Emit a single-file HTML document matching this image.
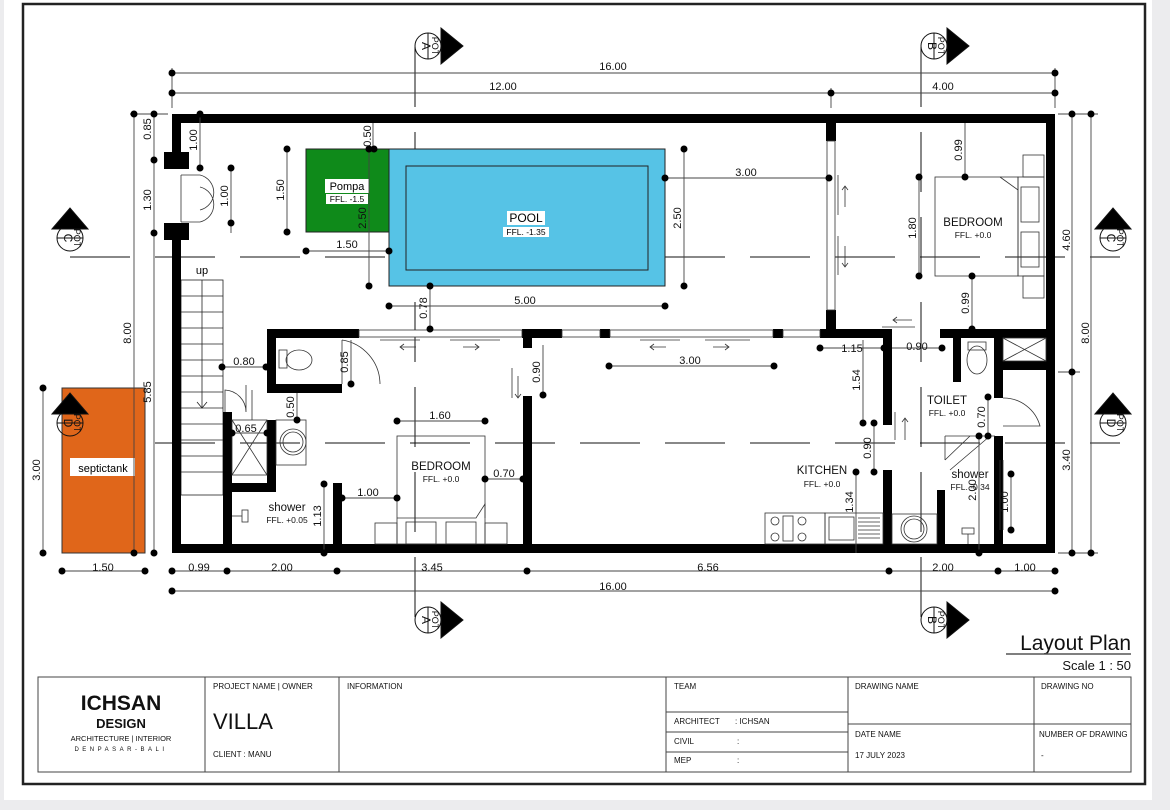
<!DOCTYPE html>
<html><head><meta charset="utf-8"><style>
html,body{margin:0;padding:0;background:#ececee;}
svg{display:block;font-family:"Liberation Sans",sans-serif;}
</style></head><body>
<svg width="1170" height="810" viewBox="0 0 1170 810" xmlns="http://www.w3.org/2000/svg">
<rect x="0" y="0" width="1170" height="810" fill="#ececee"/>
<rect x="4" y="0" width="1148" height="800" fill="#fff"/>
<rect x="23" y="4" width="1122" height="780" fill="#fff" stroke="#222" stroke-width="2.5"/>

<!-- section dashed lines -->
<g stroke="#111" stroke-width="1" stroke-dasharray="60,25">
<line x1="70" y1="257" x2="1120" y2="257"/>
<line x1="70" y1="443" x2="1120" y2="443"/>
<line x1="415" y1="47" x2="415" y2="620"/>
<line x1="921" y1="47" x2="921" y2="620"/>
</g>

<!-- septic tank -->
<rect x="62" y="388" width="83" height="165" fill="#e0661a" stroke="#333" stroke-width="1"/>
<rect x="70" y="458" width="65" height="18" fill="#fff"/>
<text x="103" y="472" font-size="11" text-anchor="middle">septictank</text>

<!-- pool / pompa -->
<rect x="306" y="149" width="83" height="83" fill="#0f8a1a" stroke="#222" stroke-width="1"/>
<rect x="389" y="149" width="276" height="137" fill="#56c3e6" stroke="#222" stroke-width="1"/>
<rect x="406" y="166" width="242" height="104" fill="none" stroke="#222" stroke-width="1"/>
<rect x="325" y="179" width="44" height="14" fill="#fff"/>
<text x="347" y="190" font-size="11" text-anchor="middle">Pompa</text>
<rect x="326" y="194" width="42" height="10" fill="#fff"/>
<text x="347" y="202" font-size="8.5" text-anchor="middle">FFL. -1.5</text>
<rect x="507" y="211" width="38" height="14" fill="#fff"/>
<text x="526" y="222" font-size="12" text-anchor="middle">POOL</text>
<rect x="503" y="227" width="46" height="10" fill="#fff"/>
<text x="526" y="235" font-size="8.5" text-anchor="middle">FFL. -1.35</text>

<!-- stairs -->
<g stroke="#222" stroke-width="0.8" fill="none">
<rect x="181" y="280" width="42" height="215"/>
<path d="M181 296H223M181 312H223M181 328H223M181 344H223M181 360H223M181 376H223M181 392H223M181 408H223M181 424H223M181 440H223M181 456H223M181 472H223"/>
<line x1="202" y1="280" x2="202" y2="408"/>
<path d="M197 402L202 408L207 402"/>
</g>
<text x="202" y="274" font-size="11" text-anchor="middle">up</text>

<!-- outer walls -->
<g fill="#000">
<rect x="172" y="114" width="883" height="9"/>
<rect x="172" y="544" width="883" height="9"/>
<rect x="1046" y="114" width="9" height="439"/>
<rect x="172" y="114" width="9" height="38"/>
<rect x="172" y="232" width="9" height="321"/>
<rect x="164" y="152" width="25" height="17"/>
<rect x="164" y="223" width="25" height="17"/>
<!-- vertical wall at 826 -->
<rect x="826" y="123" width="10" height="18"/>
<rect x="826" y="310" width="10" height="28"/>
<!-- horizontal wall y329 -->
<rect x="267" y="329" width="92" height="9"/>
<rect x="522" y="329" width="40" height="9"/>
<rect x="600" y="329" width="10" height="9"/>
<rect x="773" y="329" width="10" height="9"/>
<rect x="820" y="329" width="72" height="9"/>
<rect x="940" y="329" width="106" height="9"/>
<!-- toilet room left -->
<rect x="267" y="329" width="9" height="64"/>
<rect x="267" y="384" width="75" height="9"/>
<!-- wash/shower left -->
<rect x="223" y="412" width="9" height="141"/>
<rect x="267" y="420" width="9" height="72"/>
<rect x="223" y="483" width="53" height="9"/>
<rect x="333" y="483" width="9" height="70"/>
<!-- bedroom/living wall -->
<rect x="523" y="329" width="9" height="19"/>
<rect x="523" y="396" width="9" height="157"/>
<!-- kitchen wall -->
<rect x="883" y="329" width="9" height="96"/>
<rect x="883" y="470" width="9" height="83"/>
<!-- toilet right -->
<rect x="953" y="329" width="8" height="53"/>
<rect x="994" y="329" width="9" height="69"/>
<rect x="994" y="436" width="9" height="117"/>
<rect x="1003" y="361" width="43" height="9"/>
<rect x="937" y="490" width="8" height="63"/>
</g>

<!-- windows / glass -->
<g stroke="#333" stroke-width="0.8" fill="#fff">
<rect x="827" y="141" width="8" height="169"/>
<rect x="359" y="330" width="163" height="7"/>
<rect x="562" y="330" width="38" height="7"/>
<rect x="610" y="330" width="163" height="7"/>
<rect x="783" y="330" width="37" height="7"/>
</g>
<g stroke="#333" stroke-width="0.8" fill="none">
<line x1="838" y1="175" x2="838" y2="215"/><line x1="838" y1="236" x2="838" y2="275"/>
<path d="M845 207V186M842 190L845 186L848 190"/>
<path d="M845 246V267M842 263L845 267L848 263"/>
<line x1="380" y1="340" x2="420" y2="340"/><line x1="450" y1="340" x2="500" y2="340"/>
<line x1="640" y1="340" x2="680" y2="340"/><line x1="705" y1="340" x2="750" y2="340"/>
<path d="M416 347H400M404 344L400 347L404 350"/>
<path d="M463 347H479M475 344L479 347L475 350"/>
<path d="M666 347H650M654 344L650 347L654 350"/>
<path d="M713 347H729M725 344L729 347L725 350"/>
<line x1="512" y1="368" x2="512" y2="398"/>
<path d="M518 376V398M515 394L518 398L521 394"/>
<line x1="882" y1="327" x2="915" y2="327"/>
<path d="M912 320H893M897 317L893 320L897 323"/>
<line x1="895" y1="412" x2="895" y2="440"/>
<path d="M905 440V418M902 422L905 418L908 422"/>
<!-- entry doors -->
<path d="M181 175 L200 175 A18 18 0 0 1 200 210 M181 222 L200 222 A18 18 0 0 0 200 187"/>
<line x1="181" y1="175" x2="181" y2="222"/>
<!-- toilet door -->
<path d="M342 340 V384 M342 340 A45 45 0 0 1 380 384"/>
<!-- small door near shower -->
<path d="M225 412 V390 A22 22 0 0 1 246 412 M246 385 V412 M252 390V420"/>
<!-- toilet right door -->
<path d="M1003 398 A38 38 0 0 1 1040 426 L1003 426"/>
<!-- X boxes -->
<rect x="232" y="420" width="35" height="55"/>
<path d="M232 420L267 475M267 420L232 475"/>
<rect x="1003" y="338" width="43" height="23"/>
<path d="M1003 338L1046 361M1046 338L1003 361"/>
<!-- basin left -->
<rect x="276" y="420" width="30" height="45"/>
<circle cx="293" cy="442" r="13"/><circle cx="293" cy="442" r="10"/>
<!-- toilets -->
<ellipse cx="299" cy="360" rx="13" ry="10"/><rect x="279" y="350" width="8" height="18"/>
<ellipse cx="977" cy="360" rx="10" ry="14"/><rect x="968" y="342" width="18" height="8"/>
<!-- shower fixtures -->
<rect x="242" y="510" width="6" height="12"/><line x1="232" y1="516" x2="242" y2="516"/>
<rect x="962" y="528" width="12" height="6"/><line x1="968" y1="534" x2="968" y2="544"/>
<path d="M945 436H995M945 436V460M945 460L970 436M950 470L990 436"/>
<line x1="1000" y1="460" x2="1000" y2="530"/><line x1="1003" y1="460" x2="1003" y2="530"/>
<!-- bedroom right -->
<rect x="935" y="177" width="83" height="99"/>
<rect x="1018" y="177" width="26" height="99"/>
<rect x="1023" y="155" width="21" height="22"/><rect x="1023" y="276" width="21" height="22"/>
<rect x="1021" y="187" width="18" height="35"/><rect x="1021" y="232" width="18" height="35"/>
<path d="M1000 177 L1018 190"/>
<!-- bedroom left -->
<rect x="397" y="436" width="88" height="108"/>
<rect x="375" y="523" width="22" height="21"/><rect x="485" y="523" width="22" height="21"/>
<rect x="406" y="522" width="30" height="22"/><rect x="446" y="522" width="30" height="22"/>
<path d="M397 518H476L485 504V518"/>
<!-- kitchen -->
<rect x="765" y="513" width="60" height="31"/>
<circle cx="775" cy="521" r="4"/><circle cx="775" cy="537" r="4"/><circle cx="802" cy="521" r="4"/><circle cx="802" cy="537" r="4"/>
<rect x="783" y="516" width="10" height="25"/>
<rect x="825" y="513" width="58" height="31"/><rect x="829" y="517" width="25" height="23"/>
<path d="M858 518H880M858 522H880M858 526H880M858 530H880M858 534H880M858 538H880"/>
<rect x="892" y="514" width="45" height="30"/>
<circle cx="914" cy="529" r="13"/><circle cx="914" cy="529" r="10"/>
</g>

<!-- room labels -->
<g font-size="11.5" text-anchor="middle" fill="#111">
<text x="973" y="226">BEDROOM</text>
<text x="441" y="470">BEDROOM</text>
<text x="947" y="404">TOILET</text>
<text x="822" y="474">KITCHEN</text>
<text x="970" y="478">shower</text>
<text x="287" y="511">shower</text>
</g>
<g font-size="8.5" text-anchor="middle" fill="#111">
<text x="973" y="238">FFL. +0.0</text>
<text x="441" y="482">FFL. +0.0</text>
<text x="947" y="416">FFL. +0.0</text>
<text x="822" y="487">FFL. +0.0</text>
<text x="970" y="490">FFL. -0.34</text>
<text x="287" y="523">FFL. +0.05</text>
</g>

<!-- dimension lines -->
<g stroke="#444" stroke-width="0.9" fill="none">
<line x1="172" y1="73" x2="1055" y2="73"/><line x1="172" y1="93" x2="1055" y2="93"/>
<line x1="172" y1="68" x2="172" y2="108"/><line x1="1055" y1="68" x2="1055" y2="108"/><line x1="831" y1="88" x2="831" y2="108"/>
<line x1="172" y1="571" x2="1055" y2="571"/><line x1="172" y1="591" x2="1055" y2="591"/>
<line x1="62" y1="571" x2="145" y2="571"/>
<line x1="134" y1="114" x2="134" y2="553"/><line x1="154" y1="114" x2="154" y2="553"/>
<line x1="130" y1="114" x2="168" y2="114"/>
<line x1="43" y1="388" x2="43" y2="553"/>
<line x1="1072" y1="114" x2="1072" y2="553"/><line x1="1091" y1="114" x2="1091" y2="553"/>
<line x1="1058" y1="114" x2="1098" y2="114"/><line x1="1058" y1="553" x2="1098" y2="553"/>
<line x1="1058" y1="372" x2="1080" y2="372"/>
<line x1="200" y1="114" x2="200" y2="168"/>
<line x1="231" y1="168" x2="231" y2="233"/>
<line x1="287" y1="149" x2="287" y2="232"/>
<line x1="373" y1="123" x2="373" y2="149"/>
<line x1="369" y1="149" x2="369" y2="286"/>
<line x1="306" y1="251" x2="389" y2="251"/>
<line x1="430" y1="286" x2="430" y2="329"/>
<line x1="389" y1="306" x2="665" y2="306"/>
<line x1="684" y1="149" x2="684" y2="286"/>
<line x1="665" y1="178" x2="829" y2="178"/>
<line x1="965" y1="123" x2="965" y2="177"/>
<line x1="919" y1="177" x2="919" y2="276"/>
<line x1="972" y1="276" x2="972" y2="329"/>
<line x1="609" y1="366" x2="774" y2="366"/>
<line x1="820" y1="348" x2="884" y2="348"/>
<line x1="892" y1="348" x2="942" y2="348"/>
<line x1="863" y1="340" x2="863" y2="423"/>
<line x1="874" y1="423" x2="874" y2="472"/>
<line x1="856" y1="472" x2="856" y2="553"/>
<line x1="988" y1="397" x2="988" y2="436"/>
<line x1="979" y1="436" x2="979" y2="553"/>
<line x1="1011" y1="474" x2="1011" y2="530"/>
<line x1="222" y1="367" x2="266" y2="367"/>
<line x1="351" y1="340" x2="351" y2="384"/>
<line x1="297" y1="393" x2="297" y2="420"/>
<line x1="232" y1="433" x2="267" y2="433"/>
<line x1="324" y1="484" x2="324" y2="553"/>
<line x1="342" y1="498" x2="397" y2="498"/>
<line x1="397" y1="421" x2="485" y2="421"/>
<line x1="485" y1="479" x2="523" y2="479"/>
<line x1="543" y1="345" x2="543" y2="395"/>
</g>
<g fill="#000">
<circle cx="172" cy="73" r="3.5"/><circle cx="1055" cy="73" r="3.5"/>
<circle cx="172" cy="93" r="3.5"/><circle cx="831" cy="93" r="3.5"/><circle cx="1055" cy="93" r="3.5"/>
<circle cx="172" cy="571" r="3.5"/><circle cx="227" cy="571" r="3.5"/><circle cx="337" cy="571" r="3.5"/><circle cx="527" cy="571" r="3.5"/><circle cx="889" cy="571" r="3.5"/><circle cx="998" cy="571" r="3.5"/><circle cx="1055" cy="571" r="3.5"/>
<circle cx="172" cy="591" r="3.5"/><circle cx="1055" cy="591" r="3.5"/>
<circle cx="62" cy="571" r="3.5"/><circle cx="145" cy="571" r="3.5"/>
<circle cx="134" cy="114" r="3.5"/><circle cx="134" cy="553" r="3.5"/>
<circle cx="154" cy="114" r="3.5"/><circle cx="154" cy="160" r="3.5"/><circle cx="154" cy="233" r="3.5"/><circle cx="154" cy="553" r="3.5"/>
<circle cx="43" cy="388" r="3.5"/><circle cx="43" cy="553" r="3.5"/>
<circle cx="1072" cy="114" r="3.5"/><circle cx="1072" cy="372" r="3.5"/><circle cx="1072" cy="553" r="3.5"/>
<circle cx="1091" cy="114" r="3.5"/><circle cx="1091" cy="553" r="3.5"/>
<circle cx="200" cy="114" r="3.5"/><circle cx="200" cy="168" r="3.5"/>
<circle cx="231" cy="168" r="3.5"/><circle cx="231" cy="223" r="3.5"/>
<circle cx="287" cy="149" r="3.5"/><circle cx="287" cy="232" r="3.5"/>
<circle cx="369" cy="149" r="3.5"/><circle cx="374" cy="149" r="3.5"/><circle cx="369" cy="286" r="3.5"/>
<circle cx="306" cy="251" r="3.5"/><circle cx="389" cy="251" r="3.5"/>
<circle cx="430" cy="286" r="3.5"/><circle cx="430" cy="329" r="3.5"/>
<circle cx="389" cy="306" r="3.5"/><circle cx="665" cy="306" r="3.5"/>
<circle cx="684" cy="149" r="3.5"/><circle cx="684" cy="286" r="3.5"/>
<circle cx="665" cy="178" r="3.5"/><circle cx="829" cy="178" r="3.5"/>
<circle cx="965" cy="177" r="3.5"/><circle cx="919" cy="177" r="3.5"/><circle cx="919" cy="276" r="3.5"/><circle cx="972" cy="276" r="3.5"/><circle cx="972" cy="329" r="3.5"/>
<circle cx="609" cy="366" r="3.5"/><circle cx="774" cy="366" r="3.5"/>
<circle cx="820" cy="348" r="3.5"/><circle cx="884" cy="348" r="3.5"/><circle cx="942" cy="348" r="3.5"/>
<circle cx="863" cy="423" r="3.5"/><circle cx="874" cy="423" r="3.5"/><circle cx="874" cy="472" r="3.5"/><circle cx="856" cy="472" r="3.5"/>
<circle cx="988" cy="397" r="3.5"/><circle cx="988" cy="436" r="3.5"/><circle cx="979" cy="436" r="3.5"/><circle cx="979" cy="553" r="3.5"/>
<circle cx="1011" cy="474" r="3.5"/><circle cx="1011" cy="530" r="3.5"/>
<circle cx="222" cy="367" r="3.5"/><circle cx="266" cy="367" r="3.5"/>
<circle cx="351" cy="384" r="3.5"/><circle cx="297" cy="420" r="3.5"/>
<circle cx="232" cy="433" r="3.5"/><circle cx="267" cy="433" r="3.5"/>
<circle cx="324" cy="484" r="3.5"/><circle cx="324" cy="553" r="3.5"/>
<circle cx="342" cy="498" r="3.5"/><circle cx="397" cy="498" r="3.5"/>
<circle cx="397" cy="421" r="3.5"/><circle cx="485" cy="421" r="3.5"/>
<circle cx="485" cy="479" r="3.5"/><circle cx="523" cy="479" r="3.5"/>
<circle cx="543" cy="395" r="3.5"/>
</g>

<!-- dimension labels -->
<g font-size="11" text-anchor="middle" fill="#111">
<text x="613" y="70">16.00</text><text x="503" y="90">12.00</text><text x="943" y="90">4.00</text>
<text x="199" y="571">0.99</text><text x="282" y="571">2.00</text><text x="432" y="571">3.45</text><text x="708" y="571">6.56</text><text x="943" y="571">2.00</text><text x="1025" y="571">1.00</text>
<text x="613" y="590">16.00</text><text x="103" y="571">1.50</text>
<text x="347" y="248">1.50</text><text x="525" y="304">5.00</text><text x="746" y="176">3.00</text>
<text x="690" y="364">3.00</text><text x="852" y="352">1.15</text><text x="917" y="350">0.90</text>
<text x="244" y="365">0.80</text><text x="246" y="432">0.65</text><text x="368" y="496">1.00</text>
<text x="440" y="419">1.60</text><text x="504" y="477">0.70</text>
</g>
<g font-size="11" text-anchor="middle" fill="#111">
<text transform="translate(151,129) rotate(-90)">0.85</text>
<text transform="translate(151,200) rotate(-90)">1.30</text>
<text transform="translate(131,333) rotate(-90)">8.00</text>
<text transform="translate(151,392) rotate(-90)">5.85</text>
<text transform="translate(40,470) rotate(-90)">3.00</text>
<text transform="translate(1070,240) rotate(-90)">4.60</text>
<text transform="translate(1089,333) rotate(-90)">8.00</text>
<text transform="translate(1070,460) rotate(-90)">3.40</text>
<text transform="translate(197,140) rotate(-90)">1.00</text>
<text transform="translate(228,196) rotate(-90)">1.00</text>
<text transform="translate(284,190) rotate(-90)">1.50</text>
<text transform="translate(371,136) rotate(-90)">0.50</text>
<text transform="translate(366,218) rotate(-90)">2.50</text>
<text transform="translate(427,308) rotate(-90)">0.78</text>
<text transform="translate(681,218) rotate(-90)">2.50</text>
<text transform="translate(962,150) rotate(-90)">0.99</text>
<text transform="translate(916,228) rotate(-90)">1.80</text>
<text transform="translate(969,303) rotate(-90)">0.99</text>
<text transform="translate(860,380) rotate(-90)">1.54</text>
<text transform="translate(871,448) rotate(-90)">0.90</text>
<text transform="translate(853,502) rotate(-90)">1.34</text>
<text transform="translate(985,417) rotate(-90)">0.70</text>
<text transform="translate(976,490) rotate(-90)">2.00</text>
<text transform="translate(1008,502) rotate(-90)">1.00</text>
<text transform="translate(348,362) rotate(-90)">0.85</text>
<text transform="translate(294,407) rotate(-90)">0.50</text>
<text transform="translate(321,516) rotate(-90)">1.13</text>
<text transform="translate(540,372) rotate(-90)">0.90</text>
</g>

<!-- section markers -->
<g stroke="#111" stroke-width="1" font-size="10">
<g transform="translate(428,46)"><circle r="13" fill="#fff"/><line x1="0" y1="-13" x2="0" y2="13"/><path d="M13 -18L35 0L13 18Z" fill="#000"/><path d="M-13 0H-13" /></g>
<g transform="translate(934,46)"><circle r="13" fill="#fff"/><line x1="0" y1="-13" x2="0" y2="13"/><path d="M13 -18L35 0L13 18Z" fill="#000"/></g>
<g transform="translate(428,620)"><circle r="13" fill="#fff"/><line x1="0" y1="-13" x2="0" y2="13"/><path d="M13 -18L35 0L13 18Z" fill="#000"/></g>
<g transform="translate(934,620)"><circle r="13" fill="#fff"/><line x1="0" y1="-13" x2="0" y2="13"/><path d="M13 -18L35 0L13 18Z" fill="#000"/></g>
<g transform="translate(70,238)"><circle r="13" fill="#fff"/><line x1="-13" y1="0" x2="13" y2="0"/><path d="M-18 -9L0 -30L18 -9Z" fill="#000"/></g>
<g transform="translate(1113,238)"><circle r="13" fill="#fff"/><line x1="-13" y1="0" x2="13" y2="0"/><path d="M-18 -9L0 -30L18 -9Z" fill="#000"/></g>
<g transform="translate(70,423)"><circle r="13" fill="#fff" fill-opacity="0"/><line x1="-13" y1="0" x2="13" y2="0"/><path d="M-18 -9L0 -30L18 -9Z" fill="#000"/></g>
<g transform="translate(1113,423)"><circle r="13" fill="#fff"/><line x1="-13" y1="0" x2="13" y2="0"/><path d="M-18 -9L0 -30L18 -9Z" fill="#000"/></g>
</g>
<g font-size="9" fill="#111" text-anchor="middle">
<text transform="translate(432,46) rotate(90)">POT</text><text transform="translate(422,46) rotate(90)" font-size="12">A</text>
<text transform="translate(938,46) rotate(90)">POT</text><text transform="translate(928,46) rotate(90)" font-size="12">B</text>
<text transform="translate(432,620) rotate(90)">POT</text><text transform="translate(422,620) rotate(90)" font-size="12">A</text>
<text transform="translate(938,620) rotate(90)">POT</text><text transform="translate(928,620) rotate(90)" font-size="12">B</text>
<text transform="translate(74,238) rotate(90)">POT</text><text transform="translate(64,238) rotate(90)" font-size="12">C</text>
<text transform="translate(1117,238) rotate(90)">POT</text><text transform="translate(1107,238) rotate(90)" font-size="12">C</text>
<text transform="translate(74,423) rotate(90)">POT</text><text transform="translate(64,423) rotate(90)" font-size="12">D</text>
<text transform="translate(1117,423) rotate(90)">POT</text><text transform="translate(1107,423) rotate(90)" font-size="12">D</text>
</g>

<!-- title -->
<text x="1131" y="650" font-size="21" text-anchor="end" fill="#111">Layout Plan</text>
<line x1="1006" y1="654" x2="1131" y2="654" stroke="#555" stroke-width="1.5"/>
<text x="1131" y="670" font-size="13" text-anchor="end" fill="#111">Scale 1 : 50</text>

<!-- title block -->
<g stroke="#444" stroke-width="1" fill="none">
<rect x="38" y="677" width="1093" height="95"/>
<line x1="205" y1="677" x2="205" y2="772"/><line x1="339" y1="677" x2="339" y2="772"/>
<line x1="666" y1="677" x2="666" y2="772"/><line x1="848" y1="677" x2="848" y2="772"/>
<line x1="1034" y1="677" x2="1034" y2="772"/>
<line x1="666" y1="712" x2="848" y2="712"/><line x1="666" y1="732" x2="848" y2="732"/><line x1="666" y1="752" x2="848" y2="752"/>
<line x1="848" y1="724" x2="1131" y2="724"/>
</g>
<g fill="#111" font-size="8">
<text x="213" y="689">PROJECT NAME | OWNER</text>
<text x="213" y="757">CLIENT : MANU</text>
<text x="347" y="689">INFORMATION</text>
<text x="674" y="689">TEAM</text>
<text x="674" y="724">ARCHITECT</text><text x="735" y="724">: ICHSAN</text>
<text x="674" y="744">CIVIL</text><text x="737" y="744">:</text>
<text x="674" y="763">MEP</text><text x="737" y="763">:</text>
<text x="855" y="689">DRAWING NAME</text>
<text x="855" y="737">DATE NAME</text>
<text x="855" y="758">17 JULY 2023</text>
<text x="1041" y="689">DRAWING NO</text>
<text x="1039" y="737">NUMBER OF DRAWING</text>
<text x="1041" y="758">-</text>
</g>
<text x="213" y="729" font-size="22" fill="#111">VILLA</text>
<g text-anchor="middle" fill="#111">
<text x="121" y="710" font-size="21" font-weight="bold">ICHSAN</text>
<text x="121" y="728" font-size="13" font-weight="bold">DESIGN</text>
<text x="121" y="741" font-size="7.5">ARCHITECTURE | INTERIOR</text>
<text x="121" y="751" font-size="6" letter-spacing="3.5">DENPASAR-BALI</text>
</g>
</svg>
</body></html>
